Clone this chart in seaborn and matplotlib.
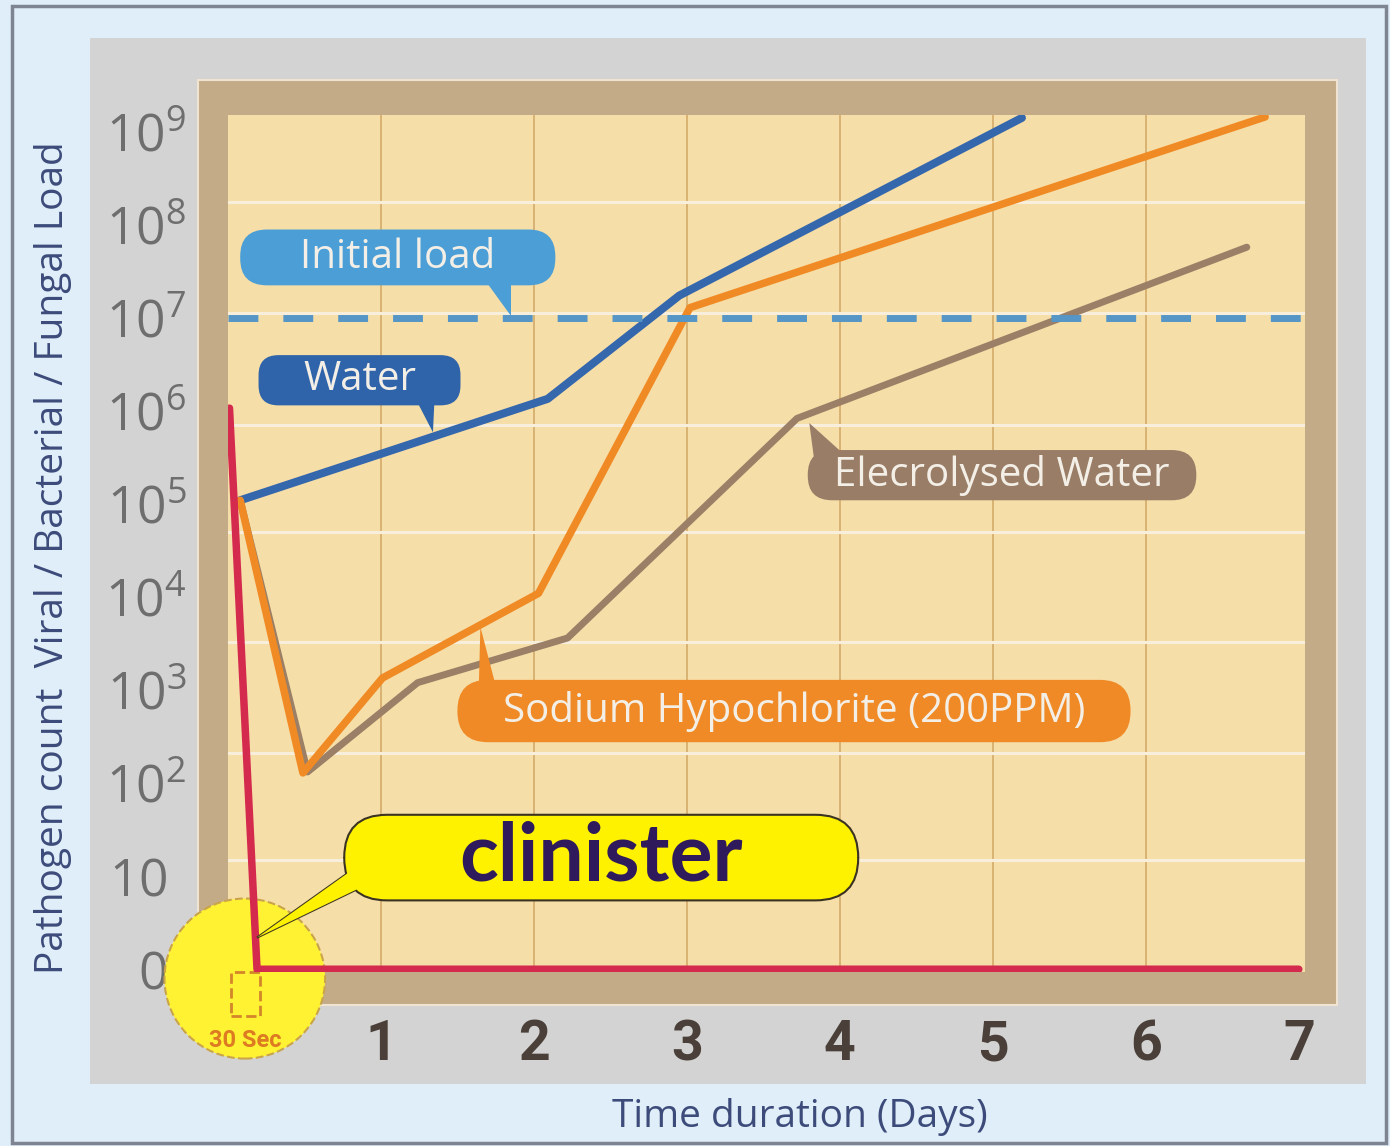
import matplotlib
matplotlib.use("Agg")
import matplotlib.pyplot as plt
import seaborn as sns
from matplotlib.patches import Rectangle, FancyBboxPatch, Polygon, Ellipse

# values: x = days, y = log10 of pathogen count (0 = none)
water_days = [0.08, 2.09, 2.95, 5.19]
water_log = [5.04, 6.13, 7.24, 9.15]

sodium_days = [0.08, 0.49, 1.01, 2.03, 3.02, 6.78]
sodium_log = [5.04, 2.11, 3.13, 4.04, 7.11, 9.16]

electro_days = [0.08, 0.52, 1.24, 2.22, 3.72, 6.66]
electro_log = [5.04, 2.12, 3.08, 3.56, 5.92, 7.76]

clinister_days = [0.01, 0.19, 7.0]
clinister_log = [6.03, 0.0, 0.0]

initial_load = 7.0

y_levels = list(range(10))
y_labels = ["$0$", "$10$"] + [r"$10^{%d}$" % k for k in range(2, 10)]
x_days = [1, 2, 3, 4, 5, 6, 7]
x_labels = ["1", "2", "3", "4", "5", "6", "7"]

# light bands across the plot area
band_levels = [1.17, 2.32, 3.52, 4.70, 5.85, 7.05, 8.25]

sns.set_style("white")
plt.rcParams['font.family'] = ['Open Sans', 'DejaVu Sans']
plt.rcParams['mathtext.fontset'] = 'custom'
plt.rcParams['mathtext.rm'] = 'Open Sans'
plt.rcParams['mathtext.it'] = 'Open Sans'
plt.rcParams['mathtext.bf'] = 'Open Sans:bold'

fig = plt.figure(figsize=(13.9, 11.46), dpi=100, facecolor='#dfeef8')

# panels behind the plot
fig.add_artist(Rectangle((0.0647, 0.0541), 0.918, 0.9127, transform=fig.transFigure,
                         fc='#d3d3d3', ec='none', zorder=-5))
fig.add_artist(Rectangle((0.1424, 0.1230), 0.8194, 0.8072, transform=fig.transFigure,
                         fc='#c4ab88', ec='#efe4d2', lw=1.5, zorder=-4))
fig.add_artist(Rectangle((0.0086, 0.0026), 0.9885, 0.9921, transform=fig.transFigure,
                         fill=False, ec='#7f8493', lw=2.5, zorder=10))

ax = fig.add_axes([0.1640, 0.1518, 0.7748, 0.7478], facecolor='#f6dea8')

for d in x_days[:-1]:
    ax.axvline(d, color='#d3ab6a', lw=1.2, zorder=1)
for lev in band_levels:
    ax.axhline(lev, color='#f8eedc', lw=2.2, zorder=1.5)

# yellow "30 sec" spot
ax.add_patch(Ellipse((0.11, -0.10), 1.05, 1.72, fc='#fff233', ec='#c9a44a', ls='--',
                     lw=1.5, clip_on=False, zorder=2.5))
ax.add_patch(Rectangle((0.02, -0.50), 0.19, 0.47, fill=False, ec='#d4862a', ls='--',
                       lw=2, clip_on=False, zorder=3))
ax.text(0.11, -0.77, "30 Sec", ha='center', va='center', fontsize=17, fontweight='bold',
        color='#dd7a22', family=['Roboto', 'DejaVu Sans'], clip_on=False, zorder=3)

sns.lineplot(x=water_days, y=water_log, sort=False, ax=ax, color='#3567ad', lw=5.8, zorder=3)
sns.lineplot(x=electro_days, y=electro_log, sort=False, ax=ax, color='#9b7f66', lw=5.0, zorder=3.1)
sns.lineplot(x=sodium_days, y=sodium_log, sort=False, ax=ax, color='#f08a24', lw=5.4, zorder=3.2)
ax.axhline(initial_load, color='#5596c6', lw=5, dashes=(4.3, 3.6), zorder=4)
sns.lineplot(x=clinister_days, y=clinister_log, sort=False, ax=ax, color='#d42a4e', lw=5.4, zorder=5)

ASPECT = 153 / 93.0


def callout(x0, y0, x1, y1, r, pointer, text, fc, fs, tc='#f3efe6', ec='none', lw=0,
            weight='normal', family=None):
    z = 6
    if ec != 'none':
        ax.add_patch(Polygon(pointer, closed=True, fc=fc, ec=ec, lw=lw, zorder=z))
    ax.add_patch(FancyBboxPatch((x0, y0), x1 - x0, y1 - y0,
                                boxstyle="round,pad=0,rounding_size=%f" % r,
                                mutation_aspect=ASPECT, fc=fc, ec=ec, lw=lw, zorder=z + 0.1))
    ax.add_patch(Polygon(pointer, closed=True, fc=fc, ec='none', zorder=z + 0.2))
    kw = dict(ha='center', va='center', fontsize=fs, color=tc, fontweight=weight, zorder=z + 0.3)
    if family:
        kw['family'] = family
    ax.text((x0 + x1) / 2, (y0 + y1) / 2, text, **kw)


callout(0.08, 7.35, 2.14, 7.95, 0.175, [(1.66, 7.45), (1.85, 7.45), (1.85, 7.02)],
        "Initial load", '#4c9fd6', 29)
callout(0.20, 6.06, 1.52, 6.60, 0.13, [(1.23, 6.12), (1.35, 6.12), (1.34, 5.77)],
        "Water", '#2f64aa', 29)
callout(3.79, 5.04, 6.33, 5.58, 0.16, [(3.83, 5.5), (4.05, 5.5), (3.80, 5.87)],
        "Elecrolysed Water", '#9a7d67', 29)
callout(1.50, 2.44, 5.90, 3.11, 0.2, [(1.64, 3.05), (1.75, 3.05), (1.65, 3.68)],
        "Sodium Hypochlorite (200PPM)", '#f08a27', 29)
callout(0.76, 0.74, 4.12, 1.66, 0.28, [(0.90, 1.17), (0.92, 0.92), (0.19, 0.34)],
        "clinister", '#fff200', 58, tc='#2f1b5c', ec='#3b3322', lw=1.5, weight='bold',
        family=['Lato', 'DejaVu Sans'])

ax.set_xlim(0, 7.04)
ax.set_ylim(-0.03, 9.18)
for s in ax.spines.values():
    s.set_visible(False)

ax.set_yticks(y_levels)
ax.set_yticklabels(y_labels, fontsize=37, color='#6e6e6e')
ax.set_xticks(x_days)
ax.set_xticklabels(x_labels, fontsize=40, fontweight='bold', color='#4a4039',
                   family=['Roboto', 'DejaVu Sans'])
ax.tick_params(axis='y', length=0, pad=30)
ax.tick_params(axis='x', length=0, pad=34)
# labels without an exponent line up with the "10" of the others
for tick in ax.yaxis.get_major_ticks()[:2]:
    tick.set_pad(44)

ax.set_xlabel("Time duration (Days)", fontsize=28, color='#3d4b7b')
ax.xaxis.set_label_coords(0.531, -0.147)
ax.set_ylabel("Pathogen count  Viral / Bacterial / Fungal Load", fontsize=28, color='#3d4b7b')
ax.yaxis.set_label_coords(-0.145, 0.484)

fig.savefig("out.png", dpi=100, facecolor=fig.get_facecolor())
